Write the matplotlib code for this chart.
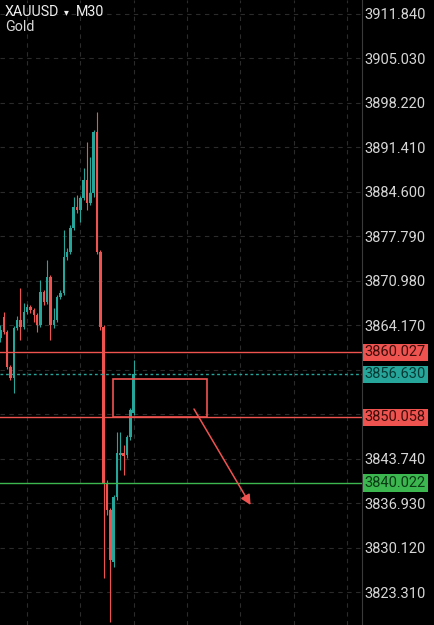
import numpy as np
import matplotlib.pyplot as plt
from matplotlib.patches import Rectangle

## XAUUSD M30 candles (oldest -> newest)
opens = [3862.22, 3865.43, 3863.13, 3857.77, 3856.09, 3863.75, 3864.97, 3863.90, 3866.20, 3866.96,
         3866.50, 3865.74, 3864.21, 3869.26, 3867.73, 3871.56, 3864.21, 3864.97, 3868.50, 3869.11,
         3874.62, 3875.39, 3879.06, 3882.28, 3881.82, 3883.66, 3886.42, 3882.89, 3884.42, 3893.77,
         3875.39, 3863.90, 3840.01, 3835.87, 3827.91, 3837.86, 3844.30, 3844.60, 3844.30, 3847.05,
         3850.73]
closes = [3863.44, 3863.13, 3857.77, 3856.09, 3863.75, 3864.97, 3863.90, 3866.20, 3866.96, 3866.50,
          3865.74, 3864.21, 3869.26, 3867.73, 3871.56, 3864.21, 3864.97, 3868.50, 3869.11, 3874.62,
          3875.39, 3879.06, 3882.28, 3881.82, 3883.66, 3886.42, 3882.89, 3884.42, 3893.77, 3875.39,
          3863.90, 3840.01, 3835.87, 3828.21, 3837.86, 3844.60, 3844.60, 3844.14, 3847.05, 3851.19,
          3856.63]
highs = [3864.21, 3866.20, 3863.44, 3858.08, 3864.05, 3865.58, 3869.87, 3867.58, 3867.42, 3867.27,
         3866.81, 3866.04, 3871.10, 3869.57, 3874.16, 3871.86, 3866.81, 3868.80, 3869.57, 3878.76,
         3876.00, 3879.52, 3883.81, 3884.12, 3883.96, 3888.25, 3892.24, 3889.94, 3894.07, 3896.83,
         3875.69, 3864.21, 3840.47, 3836.18, 3838.17, 3847.82, 3847.82, 3845.83, 3847.36, 3851.49,
         3858.85]
lows = [3861.60, 3862.83, 3857.47, 3855.78, 3853.79, 3863.44, 3861.91, 3863.59, 3865.89, 3866.04,
        3864.67, 3863.13, 3863.90, 3867.27, 3867.42, 3861.91, 3863.75, 3864.67, 3868.19, 3868.80,
        3874.16, 3875.08, 3878.76, 3881.36, 3879.98, 3883.35, 3881.82, 3882.59, 3883.81, 3875.08,
        3863.44, 3825.46, 3835.11, 3818.72, 3827.14, 3837.40, 3842.00, 3841.23, 3843.84, 3846.59,
        3850.42]

## price scale ticks (two of them sit under the level tags, so no label)
price_ticks = [3911.84, 3905.03, 3898.22, 3891.41, 3884.60, 3877.79, 3870.98, 3864.17,
               3857.36, 3850.55, 3843.74, 3836.93, 3830.12, 3823.31]
hidden_ticks = [3857.36, 3850.55]

## drawn levels
red_levels = [3860.027, 3850.058]
green_level = 3840.022
last_price = 3856.63

## zone box and arrow (bar index / price)
zone_x = [33.9, 62.1]
zone_y = [3850.06, 3855.94]
arrow_from = (58.1, 3851.34)
arrow_to = (75.1, 3836.64)

UP = '#26a69a'
DOWN = '#ef5350'
GREEN = '#3cb64f'
GRID = '#2b2b2b'
TXT = '#d6d6d6'

plt.rcParams['font.family'] = ['Roboto', 'DejaVu Sans']

fig = plt.figure(figsize=(4.34, 6.25), dpi=100, facecolor='black')
ax = fig.add_axes([0, 0, 362 / 434, 1])
ax.set_facecolor('black')

x = np.arange(len(opens))
o = np.array(opens)
c = np.array(closes)
cols = np.where(c >= o, UP, DOWN)

##wicks and bodies
ax.vlines(x, lows, highs, colors=cols, lw=0.8, zorder=3)
body = np.maximum(np.abs(c - o), 0.3)
ax.bar(x, body, bottom=np.minimum(o, c), width=0.76, color=cols, linewidth=0, zorder=4)

##grid
for k in range(8, 109, 16):
    ax.axvline(k, color=GRID, lw=0.8, ls=(0, (4, 4)), zorder=1)
for p in price_ticks:
    ax.axhline(p, color=GRID, lw=0.8, ls=(0, (4, 4)), zorder=1)

##levels
for lv in red_levels:
    ax.axhline(lv, color=DOWN, lw=1.0, zorder=5)
ax.axhline(green_level, color=GREEN, lw=1.0, zorder=5)
ax.axhline(last_price, color=UP, lw=1.0, ls=(0, (2, 2)), zorder=5)

ax.add_patch(Rectangle((zone_x[0], zone_y[0]), zone_x[1] - zone_x[0], zone_y[1] - zone_y[0],
                       fill=False, edgecolor=DOWN, lw=1.2, zorder=6))
ax.annotate('', xy=arrow_to, xytext=arrow_from,
            arrowprops=dict(arrowstyle='-|>', color=DOWN, lw=1.1, mutation_scale=15,
                            shrinkA=0, shrinkB=0), zorder=7)

ax.set_xlim(-0.15, 108.55)
ax.set_ylim(3818.26, 3913.98)
ax.set_xticks([])
ax.set_yticks(price_ticks)
ax.set_yticklabels(['' if p in hidden_ticks else '%.3f' % p for p in price_ticks])
ax.yaxis.tick_right()
ax.tick_params(axis='y', length=0, pad=2, labelsize=10.5, labelcolor=TXT)
for s in ['top', 'left', 'bottom']:
    ax.spines[s].set_visible(False)
ax.spines['right'].set_color('#3a3a3a')
ax.spines['right'].set_linewidth(0.8)

##price tags on the scale
tags = [(red_levels[0], DOWN, '#3d0d0a'), (last_price, UP, '#083a35'),
        (red_levels[1], DOWN, '#3d0d0a'), (green_level, GREEN, '#0b3a14')]
for val, bg, fg in tags:
    ax.annotate('%.3f' % val, xy=(1.0, val), xycoords=('axes fraction', 'data'),
                xytext=(2, 0), textcoords='offset points', ha='left', va='center',
                fontsize=10.5, color=fg, annotation_clip=False, zorder=10,
                bbox=dict(boxstyle='square,pad=0.12', fc=bg, ec='none'))

##header
fig.text(5 / 434, 1 - 12 / 625, 'XAUUSD', color='#eeeeee', fontsize=10.3, va='center')
fig.text(64 / 434, 1 - 12 / 625, '\u25be', color='#eeeeee', fontsize=7, va='center')
fig.text(76 / 434, 1 - 12 / 625, 'M30', color='#eeeeee', fontsize=10.3, va='center')
fig.text(5 / 434, 1 - 27 / 625, 'Gold', color='#d8d8d8', fontsize=10.3, va='center')

fig.savefig('out.png', dpi=100, facecolor='black')
